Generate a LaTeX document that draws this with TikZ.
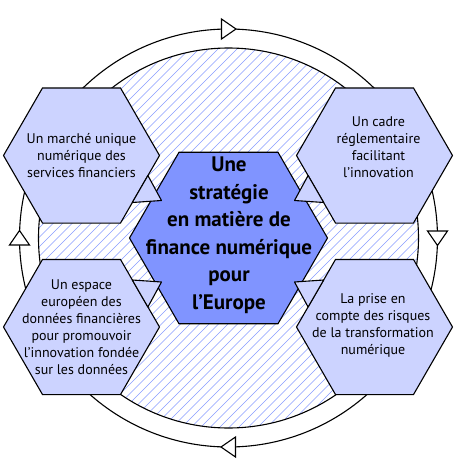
\documentclass[tikz,border=0pt]{standalone}
\usepackage{fontspec}
\setmainfont{PT Sans}
\usetikzlibrary{shapes.geometric}

\definecolor{hexdark}{RGB}{128,148,255}
\definecolor{hexlight}{RGB}{204,211,255}
\definecolor{hatchblue}{RGB}{135,155,255}

\tikzset{
  outerhex/.style={shape=regular polygon, regular polygon sides=6, minimum size=156pt,
    inner sep=0pt, outer sep=0pt, draw, line width=1.1pt, fill=hexlight},
  centerhex/.style={outerhex, minimum size=198pt, fill=hexdark},
  hextext/.style={align=center, inner sep=0pt, font=\fontsize{14}{17}\selectfont},
  centertext/.style={align=center, inner sep=0pt, font=\fontsize{21}{27.5}\selectfont\bfseries},
  tail/.style={draw, line width=1.1pt, fill=hexlight, line join=round},
  cycletip/.style={draw, line width=1.1pt, fill=white},
  hatch/.style={hatchblue, line width=0.5pt},
}

\begin{document}
\begin{tikzpicture}[x=1pt, y=1pt]
  \useasboundingbox (-228.5,-229) rectangle (229.5,238);

  % the cycle round the whole strategy
  \draw[line width=1.1pt] (0,0) circle[radius=209pt];
  \foreach \a in {90,0,-90,180}
    \draw[cycletip, rotate=\a] (199,7) -- (219,7) -- (209,-7.5) -- cycle;

  % hatched disc behind the hexagons
  \begin{scope}
    \clip (0,0) circle[radius=190pt];
    \foreach \i in {-30,...,30}
      \draw[hatch] (\i*9.5-200,-200) -- (\i*9.5+200,200);
  \end{scope}
  \draw[line width=1.1pt] (0,0) circle[radius=190pt];

  % the four pillars and the centre
  \node[outerhex] (marche) at (-147,82.5) {};
  \node[outerhex] (cadre) at (146,82.5) {};
  \node[outerhex] (espace) at (-147,-89) {};
  \node[outerhex] (risques) at (146,-89) {};
  \node[centerhex] (strategie) at (0,0) {};

  % callout tails pointing to the centre
  \foreach \h/\sx/\sy in {marche/1/1, cadre/-1/1, espace/1/-1, risques/-1/-1}
    \draw[tail, shift={(\h.center)}, xscale=\sx, yscale=\sy]
      (66.4,-20) -- (80,-45) -- (50.8,-47) -- cycle;

  % texts
  \node[hextext] (marche-txt) at (marche.center)
    {Un marché unique\\numérique des\\services financiers};
  \node[hextext] (cadre-txt) at ([shift={(4,8)}]cadre.center)
    {Un cadre\\réglementaire\\facilitant\\l’innovation};
  \node[hextext] (espace-txt) at (espace.center)
    {Un espace\\européen des\\données financières\\pour promouvoir\\l’innovation fondée\\sur les données};
  \node[hextext] (risques-txt) at ([shift={(-1.5,2)}]risques.center)
    {La prise en\\compte des risques\\de la transformation\\numérique};
  \node[centertext] (strategie-txt) at ([shift={(0.5,3)}]strategie.center)
    {Une\\stratégie\\en matière de\\finance numérique\\pour\\l’Europe};
\end{tikzpicture}
\end{document}
